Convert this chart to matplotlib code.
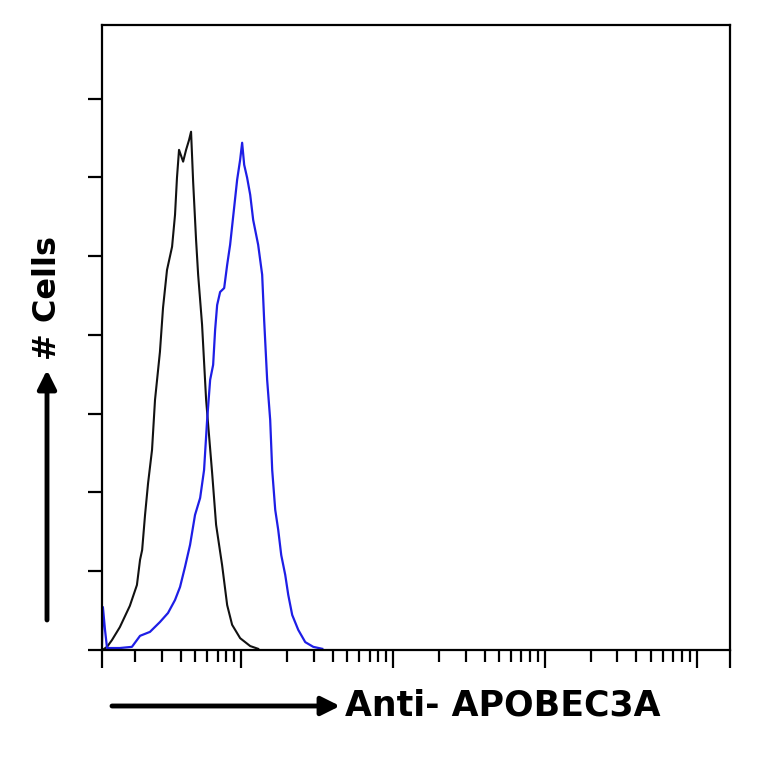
import numpy as np
import matplotlib
matplotlib.use('Agg')
import matplotlib.pyplot as plt
from matplotlib.ticker import FixedLocator, NullFormatter

# isotype control (black) and anti-APOBEC3A (blue) histograms
control_x = [1.22, 1.31, 1.41, 1.59, 1.85, 2.06, 2.16, 2.23, 2.33, 2.44, 2.59, 2.71,
             2.92, 3.06, 3.25, 3.51, 3.67, 3.78, 3.90, 4.15, 4.34, 4.54, 4.68, 4.83,
             5.05, 5.21, 5.53, 5.88, 6.44, 6.84, 7.49, 8.09, 8.72, 9.85, 11.47, 12.94]
control_y = [0.0, 0.8, 2.5, 5.8, 11.2, 16.5, 22.9, 25.4, 34.3, 42.4, 50.8, 63.5,
             75.7, 86.9, 96.5, 102.4, 110.5, 119.9, 127.0, 124.0, 127.0, 129.5, 131.6, 118.9,
             104.1, 95.3, 82.6, 63.5, 45.0, 31.8, 21.6, 11.4, 6.4, 3.0, 1.0, 0.3]

stained_x = [1.21, 1.23, 1.27, 1.31, 1.59, 1.91, 2.16, 2.51, 2.92, 3.30, 3.67, 3.96,
             4.27, 4.61, 4.97, 5.37, 5.70, 5.97, 6.25, 6.54, 6.74, 6.95, 7.27, 7.73,
             8.09, 8.46, 8.99, 9.41, 9.85, 10.15, 10.47, 10.95, 11.47, 12.00, 12.94, 13.75,
             14.17, 14.83, 15.53, 16.01, 16.76, 17.54, 18.36, 19.50, 20.42, 21.68, 23.77,
             26.42, 29.84, 34.20]
stained_y = [0.0, 10.9, 5.1, 0.5, 0.5, 0.8, 3.6, 4.6, 7.1, 9.4, 12.7, 16.0,
             21.1, 26.7, 34.3, 38.6, 45.7, 58.4, 68.6, 72.4, 81.3, 87.6, 90.9, 91.9,
             97.8, 102.9, 112.3, 119.4, 124.5, 128.8, 123.2, 119.9, 115.6, 109.2, 102.9, 95.3,
             83.8, 68.6, 58.4, 45.7, 35.6, 30.5, 24.1, 19.1, 14.0, 8.9, 5.1,
             2.0, 0.8, 0.3]

x_lo, x_hi = 10 ** 0.084, 10 ** 4.218
y_top = 158.7
y_ticks = [0, 20, 40, 60, 80, 100, 120, 140]
decades = [10, 100, 1000, 10000]

fig = plt.figure(figsize=(7.64, 7.64), dpi=100)
ax = fig.add_axes([102 / 764, 1 - 650 / 764, 628 / 764, 625 / 764])

ax.plot(control_x, control_y, color='#111111', lw=1.5)
ax.plot(stained_x, stained_y, color='#1e1ee6', lw=1.6)

ax.set_xscale('log')
ax.set_xlim(x_lo, x_hi)
ax.set_ylim(0, y_top)

minor = [m * 10 ** e for e in range(0, 4) for m in range(2, 10)]
ax.xaxis.set_major_locator(FixedLocator([x_lo] + decades + [x_hi]))
ax.xaxis.set_minor_locator(FixedLocator([v for v in minor if x_lo < v < x_hi]))
ax.xaxis.set_major_formatter(NullFormatter())
ax.xaxis.set_minor_formatter(NullFormatter())
ax.set_yticks(y_ticks)
ax.set_yticklabels([])
ax.yaxis.set_minor_locator(FixedLocator([]))

ax.tick_params(axis='x', which='major', direction='out', length=13, width=1.6)
ax.tick_params(axis='x', which='minor', direction='out', length=8.5, width=1.6)
ax.tick_params(axis='y', which='major', direction='out', length=10, width=1.6)
for s in ax.spines.values():
    s.set_linewidth(1.6)

# axis captions with arrows
fig.text(345 / 764, 1 - 706 / 764, 'Anti- APOBEC3A', fontsize=25, fontweight='bold',
         ha='left', va='center', family='DejaVu Sans')
fig.text(47 / 764, 1 - 298 / 764, '# Cells', fontsize=23, fontweight='bold',
         rotation=90, ha='center', va='center', family='DejaVu Sans')
arrow = dict(arrowstyle='-|>', lw=3.5, color='black', mutation_scale=28,
             shrinkA=0, shrinkB=0)
ax.annotate('', xy=(340 / 764, 1 - 706 / 764), xytext=(112 / 764, 1 - 706 / 764),
            xycoords='figure fraction', textcoords='figure fraction', arrowprops=arrow)
ax.annotate('', xy=(47 / 764, 1 - 370 / 764), xytext=(47 / 764, 1 - 620 / 764),
            xycoords='figure fraction', textcoords='figure fraction', arrowprops=arrow)

fig.savefig('out.png', dpi=100)
